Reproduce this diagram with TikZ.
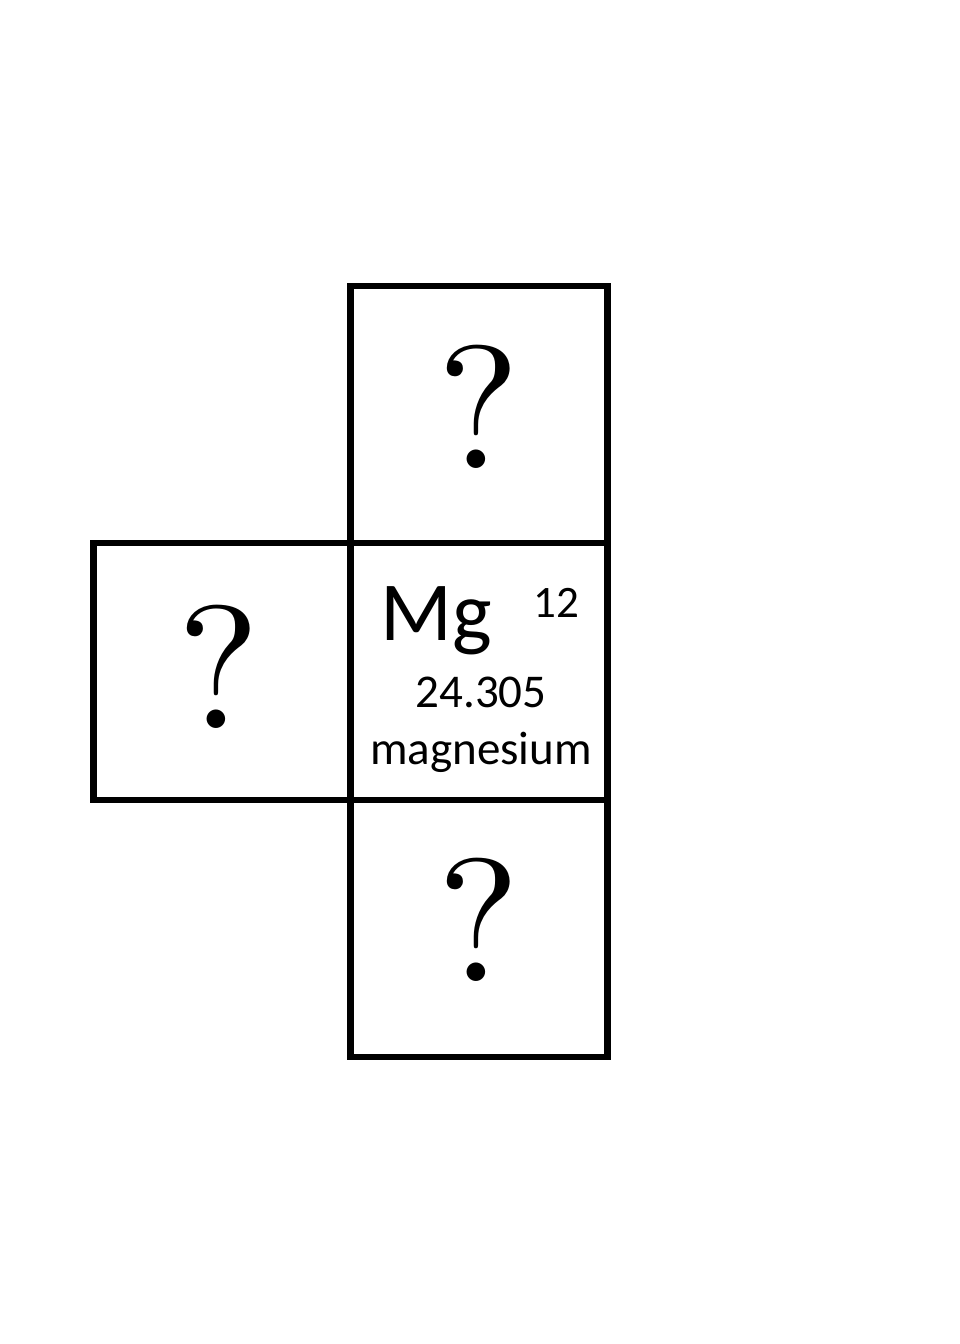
\documentclass[tikz,border=0pt]{standalone}
\usepackage{fontspec}
\usepackage{tikz}
\usetikzlibrary{positioning}
\newfontfamily\elemfont{Carlito}

\tikzset{
  cell/.style={draw=black,line width=6.5pt,minimum width=257pt,minimum height=257pt,
    outer sep=0pt,inner sep=0pt},
  qmark/.style={inner sep=0pt,scale=17.5,font=\fontsize{10}{10}\selectfont},
  elemtext/.style={inner sep=0pt,anchor=base}
}

\begin{document}
\begin{tikzpicture}[x=1pt,y=1pt]
\useasboundingbox (0,0) rectangle (960,-1344);
% the known element and its neighbours:
\node[cell] (mg) at (479,-671.5) {};
\node[cell,above=0pt of mg] (up) {};
\node[cell,left=0pt of mg] (lt) {};
\node[cell,below=0pt of mg] (dn) {};
% unknown neighbours:
\node[qmark] (qup) at ([yshift=8pt]up.center) {?};
\node[qmark] (qlt) at ([xshift=-3pt,yshift=5pt]lt.center) {?};
\node[qmark] (qdn) at ([yshift=9pt]dn.center) {?};
% contents of the magnesium cell:
\node[elemtext,anchor=base west,font=\elemfont\fontsize{84}{84}\selectfont] (sym) at (380,-640) {Mg};
\node[elemtext,anchor=base west,font=\elemfont\fontsize{45}{45}\selectfont] (num) at (533,-617) {12};
\node[elemtext,font=\elemfont\fontsize{47}{47}\selectfont] (mass) at (481,-707) {24.305};
\node[elemtext,font=\elemfont\fontsize{47}{47}\selectfont] (name) at (481,-764) {magnesium};
\end{tikzpicture}
\end{document}
